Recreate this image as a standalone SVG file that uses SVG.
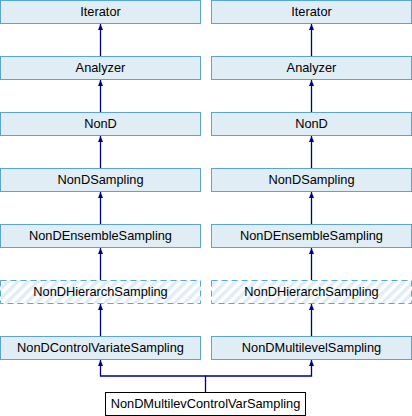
<svg xmlns="http://www.w3.org/2000/svg" width="412" height="416" viewBox="0 0 412 416">
<style>
.box{fill:#e1edf5;stroke:#5aa6cc;stroke-width:1}
.hatch{fill:url(#stripes);stroke:#5aa6cc;stroke-width:1;stroke-dasharray:6,4}
.plain{fill:#ffffff;stroke:#000000;stroke-width:1}
text{font-family:"Liberation Sans",Arial,sans-serif;font-size:12.8px;fill:#000000;text-anchor:middle}
.edge{fill:none;stroke:#000080;stroke-width:1.3}
.head{fill:#000080}
</style>
<defs>
<pattern id="stripes" width="7" height="7" patternUnits="userSpaceOnUse" patternTransform="rotate(45)">
<rect width="7" height="7" fill="#ffffff"/>
<rect width="3.5" height="7" fill="#e1edf5"/>
</pattern>
</defs>
<g id="connectors">
<path class="edge" d="M100.5,56 V24"/><polygon class="head" points="100.5,24 98,30 103,30"/>
<path class="edge" d="M100.5,112 V80"/><polygon class="head" points="100.5,80 98,86 103,86"/>
<path class="edge" d="M100.5,168 V136"/><polygon class="head" points="100.5,136 98,142 103,142"/>
<path class="edge" d="M100.5,224 V192"/><polygon class="head" points="100.5,192 98,198 103,198"/>
<path class="edge" d="M100.5,280 V248"/><polygon class="head" points="100.5,248 98,254 103,254"/>
<path class="edge" d="M100.5,336 V304"/><polygon class="head" points="100.5,304 98,310 103,310"/>
<path class="edge" d="M311.5,56 V24"/><polygon class="head" points="311.5,24 309,30 314,30"/>
<path class="edge" d="M311.5,112 V80"/><polygon class="head" points="311.5,80 309,86 314,86"/>
<path class="edge" d="M311.5,168 V136"/><polygon class="head" points="311.5,136 309,142 314,142"/>
<path class="edge" d="M311.5,224 V192"/><polygon class="head" points="311.5,192 309,198 314,198"/>
<path class="edge" d="M311.5,280 V248"/><polygon class="head" points="311.5,248 309,254 314,254"/>
<path class="edge" d="M311.5,336 V304"/><polygon class="head" points="311.5,304 309,310 314,310"/>
<path class="edge" d="M205.5,392 V376 H100.5 V360"/><polygon class="head" points="100.5,360 98,366 103,366"/>
<path class="edge" d="M205.5,376 H311.5 V360"/><polygon class="head" points="311.5,360 309,366 314,366"/>
</g>
<g id="L_Iterator"><rect class="box" x="0.5" y="0.5" width="200" height="23"/><text x="100.5" y="16">Iterator</text></g>
<g id="L_Analyzer"><rect class="box" x="0.5" y="56.5" width="200" height="23"/><text x="100.5" y="72">Analyzer</text></g>
<g id="L_NonD"><rect class="box" x="0.5" y="112.5" width="200" height="23"/><text x="100.5" y="128">NonD</text></g>
<g id="L_NonDSampling"><rect class="box" x="0.5" y="168.5" width="200" height="23"/><text x="100.5" y="184">NonDSampling</text></g>
<g id="L_NonDEnsembleSampling"><rect class="box" x="0.5" y="224.5" width="200" height="23"/><text x="100.5" y="240">NonDEnsembleSampling</text></g>
<g id="L_NonDHierarchSampling"><rect class="hatch" x="0.5" y="280.5" width="200" height="23"/><text x="100.5" y="296">NonDHierarchSampling</text></g>
<g id="L_NonDControlVariateSampling"><rect class="box" x="0.5" y="336.5" width="200" height="23"/><text x="100.5" y="352">NonDControlVariateSampling</text></g>
<g id="R_Iterator"><rect class="box" x="211.5" y="0.5" width="200" height="23"/><text x="311.5" y="16">Iterator</text></g>
<g id="R_Analyzer"><rect class="box" x="211.5" y="56.5" width="200" height="23"/><text x="311.5" y="72">Analyzer</text></g>
<g id="R_NonD"><rect class="box" x="211.5" y="112.5" width="200" height="23"/><text x="311.5" y="128">NonD</text></g>
<g id="R_NonDSampling"><rect class="box" x="211.5" y="168.5" width="200" height="23"/><text x="311.5" y="184">NonDSampling</text></g>
<g id="R_NonDEnsembleSampling"><rect class="box" x="211.5" y="224.5" width="200" height="23"/><text x="311.5" y="240">NonDEnsembleSampling</text></g>
<g id="R_NonDHierarchSampling"><rect class="hatch" x="211.5" y="280.5" width="200" height="23"/><text x="311.5" y="296">NonDHierarchSampling</text></g>
<g id="R_NonDMultilevelSampling"><rect class="box" x="211.5" y="336.5" width="200" height="23"/><text x="311.5" y="352">NonDMultilevelSampling</text></g>
<g id="NonDMultilevControlVarSampling"><rect class="plain" x="105.5" y="392.5" width="200" height="23"/><text x="205.5" y="408">NonDMultilevControlVarSampling</text></g>
</svg>
